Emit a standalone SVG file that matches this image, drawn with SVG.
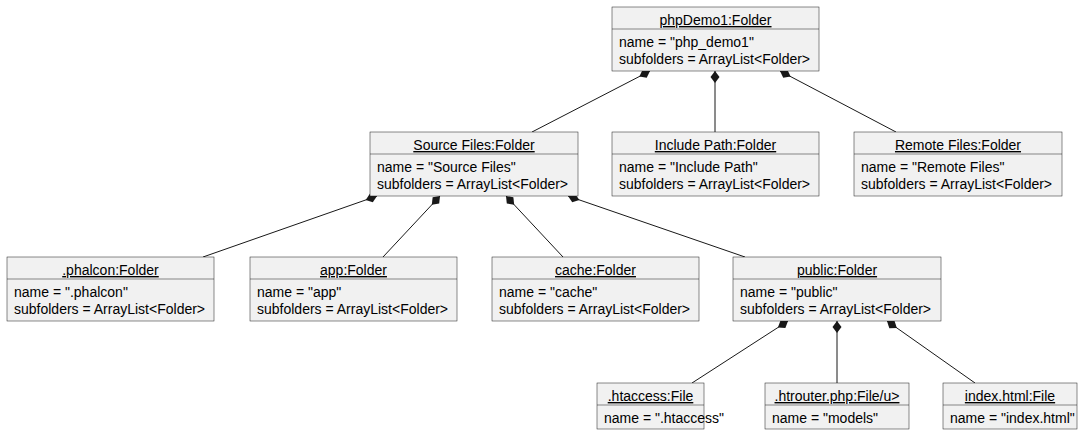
<svg xmlns="http://www.w3.org/2000/svg" width="1085" height="435" viewBox="0 0 1085 435">
<style>
.box{fill:#F1F1F1;stroke:#181818;stroke-width:0.5}
.sep{stroke:#181818;stroke-width:0.5}
.t{font-family:"Liberation Sans",Arial,sans-serif;font-size:14px;fill:#000}
.title{text-anchor:middle;text-decoration:underline}
.link{stroke:#181818;stroke-width:1;fill:none;marker-start:url(#dia)}
</style>
<defs>
<marker id="dia" markerWidth="14" markerHeight="10" viewBox="-1 -5 14 10" refX="0" refY="0" orient="auto" markerUnits="userSpaceOnUse">
<path d="M0,0 L6,-4.5 L12,0 L6,4.5 Z" fill="#181818"/>
</marker>
</defs>
<rect width="1085" height="435" fill="#FFFFFF"/>
<g id="connectors">
<path class="link" d="M650,71 L532,132"/>
<path class="link" d="M715,71 L715,132"/>
<path class="link" d="M780,71 L896,132"/>
<path class="link" d="M377,196 L203,257"/>
<path class="link" d="M440,196 L383,257"/>
<path class="link" d="M506,196 L563,257"/>
<path class="link" d="M568,196 L745,257"/>
<path class="link" d="M788,321 L692,383"/>
<path class="link" d="M837,321 L837,383"/>
<path class="link" d="M887,321 L975,383"/>
</g>
<g id="phpDemo1">
<rect class="box" x="612" y="7" width="207" height="64"/>
<line class="sep" x1="612" y1="29" x2="819" y2="29"/>
<text class="t title" x="715.5" y="25">phpDemo1:Folder</text>
<text class="t" x="619" y="47">name = "php_demo1"</text>
<text class="t" x="619" y="64">subfolders = ArrayList&lt;Folder&gt;</text>
</g>
<g id="sourceFiles">
<rect class="box" x="370" y="132" width="208" height="64"/>
<line class="sep" x1="370" y1="154" x2="578" y2="154"/>
<text class="t title" x="474" y="150">Source Files:Folder</text>
<text class="t" x="377" y="172">name = "Source Files"</text>
<text class="t" x="377" y="189">subfolders = ArrayList&lt;Folder&gt;</text>
</g>
<g id="includePath">
<rect class="box" x="612" y="132" width="207" height="64"/>
<line class="sep" x1="612" y1="154" x2="819" y2="154"/>
<text class="t title" x="715.5" y="150">Include Path:Folder</text>
<text class="t" x="619" y="172">name = "Include Path"</text>
<text class="t" x="619" y="189">subfolders = ArrayList&lt;Folder&gt;</text>
</g>
<g id="remoteFiles">
<rect class="box" x="854" y="132" width="208" height="64"/>
<line class="sep" x1="854" y1="154" x2="1062" y2="154"/>
<text class="t title" x="958" y="150">Remote Files:Folder</text>
<text class="t" x="861" y="172">name = "Remote Files"</text>
<text class="t" x="861" y="189">subfolders = ArrayList&lt;Folder&gt;</text>
</g>
<g id="phalcon">
<rect class="box" x="7" y="257" width="207" height="64"/>
<line class="sep" x1="7" y1="279" x2="214" y2="279"/>
<text class="t title" x="110.5" y="275">.phalcon:Folder</text>
<text class="t" x="14" y="297">name = ".phalcon"</text>
<text class="t" x="14" y="314">subfolders = ArrayList&lt;Folder&gt;</text>
</g>
<g id="app">
<rect class="box" x="250" y="257" width="207" height="64"/>
<line class="sep" x1="250" y1="279" x2="457" y2="279"/>
<text class="t title" x="353.5" y="275">app:Folder</text>
<text class="t" x="257" y="297">name = "app"</text>
<text class="t" x="257" y="314">subfolders = ArrayList&lt;Folder&gt;</text>
</g>
<g id="cache">
<rect class="box" x="492" y="257" width="207" height="64"/>
<line class="sep" x1="492" y1="279" x2="699" y2="279"/>
<text class="t title" x="595.5" y="275">cache:Folder</text>
<text class="t" x="499" y="297">name = "cache"</text>
<text class="t" x="499" y="314">subfolders = ArrayList&lt;Folder&gt;</text>
</g>
<g id="public">
<rect class="box" x="733" y="257" width="208" height="64"/>
<line class="sep" x1="733" y1="279" x2="941" y2="279"/>
<text class="t title" x="837" y="275">public:Folder</text>
<text class="t" x="740" y="297">name = "public"</text>
<text class="t" x="740" y="314">subfolders = ArrayList&lt;Folder&gt;</text>
</g>
<g id="htaccess">
<rect class="box" x="597" y="383" width="107" height="46"/>
<line class="sep" x1="597" y1="405" x2="704" y2="405"/>
<text class="t title" x="650.5" y="401">.htaccess:File</text>
<text class="t" x="604" y="423">name = ".htaccess"</text>
</g>
<g id="htrouter">
<rect class="box" x="765" y="383" width="144" height="46"/>
<line class="sep" x1="765" y1="405" x2="909" y2="405"/>
<text class="t title" x="837" y="401">.htrouter.php:File/u&gt;</text>
<text class="t" x="772" y="423">name = "models"</text>
</g>
<g id="indexHtml">
<rect class="box" x="943" y="383" width="134" height="46"/>
<line class="sep" x1="943" y1="405" x2="1077" y2="405"/>
<text class="t title" x="1010" y="401">index.html:File</text>
<text class="t" x="950" y="423">name = "index.html"</text>
</g>
</svg>
